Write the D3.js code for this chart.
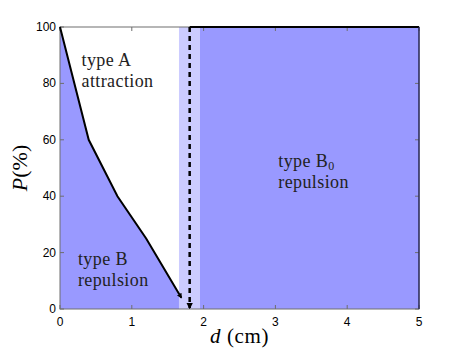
<!DOCTYPE html>
<html><head><meta charset="utf-8">
<script src="https://cdn.jsdelivr.net/npm/d3@7"></script>
<style>body{margin:0;background:#fff}</style>
</head><body>
<svg id="c" width="463" height="349"></svg>
<script>
const xTicks = [0,1,2,3,4,5];
const yTicks = [0,20,40,60,80,100];
const curveD = [0, 0.4, 0.8, 1.2, 1.69];
const curveP = [100, 60, 40, 25, 4];
const bandStart = 1.657, bandEnd = 1.95;
const dashD = 1.806;
const labels = [
  {lines:["type A","attraction"], d:0.3, p:86.2},
  {lines:["type B","repulsion"], d:0.25, p:15.5},
  {lines:["type B","repulsion"], sub:"0", d:3.04, p:50.5}
];

const svg = d3.select("#c");
const m = {l:60, r:44, t:27, b:40};
const W = 463, H = 349;
const x = d3.scaleLinear().domain([0,5]).range([m.l, W-m.r]);
const y = d3.scaleLinear().domain([0,100]).range([H-m.b, m.t]);
const dark = "#9999ff", light = "#ccccff";
const serif = "'Liberation Serif', 'Times New Roman', serif";

// fills
const fillPts = curveD.map((d,i)=>[d,curveP[i]]).filter(p=>p[0]<=bandStart);
fillPts.push([bandStart, 5]);
fillPts.push([bandStart,0]); fillPts.push([0,0]);
svg.append("path").attr("d", d3.line().x(p=>x(p[0])).y(p=>y(p[1]))(fillPts)+"Z").attr("fill",dark);
svg.append("rect").attr("x",x(bandStart)).attr("y",y(100)).attr("width",x(bandEnd)-x(bandStart)).attr("height",y(0)-y(100)).attr("fill",light);
svg.append("rect").attr("x",x(bandEnd)).attr("y",y(100)).attr("width",x(5)-x(bandEnd)).attr("height",y(0)-y(100)).attr("fill",dark);

// axes box
const ax = "#6e6e6e";
svg.append("rect").attr("x",x(0)).attr("y",y(100)).attr("width",x(5)-x(0)).attr("height",y(0)-y(100)).attr("fill","none").attr("stroke",ax).attr("stroke-width",1);
const g = svg.append("g");
xTicks.forEach(t=>{
  g.append("line").attr("x1",x(t)).attr("x2",x(t)).attr("y1",y(0)).attr("y2",y(0)-4).attr("stroke",ax);
  g.append("line").attr("x1",x(t)).attr("x2",x(t)).attr("y1",y(100)).attr("y2",y(100)+4).attr("stroke",ax);
  g.append("text").attr("x",x(t)).attr("y",y(0)+17).attr("text-anchor","middle").style("font-family","'Liberation Sans', Arial, sans-serif").attr("font-size",12).text(t);
});
yTicks.forEach(t=>{
  g.append("line").attr("x1",x(0)).attr("x2",x(0)+4).attr("y1",y(t)).attr("y2",y(t)).attr("stroke",ax);
  g.append("line").attr("x1",x(5)).attr("x2",x(5)-4).attr("y1",y(t)).attr("y2",y(t)).attr("stroke",ax);
  g.append("text").attr("x",x(0)-4).attr("y",y(t)+4).attr("text-anchor","end").style("font-family","'Liberation Sans', Arial, sans-serif").attr("font-size",12).text(t);
});

// markers
const defs = svg.append("defs");
defs.append("marker").attr("id","ah").attr("viewBox","0 0 10 10").attr("refX",8).attr("refY",5)
  .attr("markerWidth",2.6).attr("markerHeight",2.6).attr("orient","auto").attr("markerUnits","strokeWidth")
  .append("path").attr("d","M0,0L10,5L0,10Z").attr("fill","#000");

// solid curve
svg.append("path").attr("d", d3.line().x((d,i)=>x(d)).y((d,i)=>y(curveP[i]))(curveD))
  .attr("fill","none").attr("stroke","#000").attr("stroke-width",2).attr("marker-end","url(#ah)");
// top thick line
svg.append("line").attr("x1",x(dashD)).attr("x2",x(5)).attr("y1",y(100)).attr("y2",y(100)).attr("stroke","#000").attr("stroke-width",2);
svg.append("line").attr("x1",x(5)).attr("x2",x(5)).attr("y1",y(100)).attr("y2",y(0)).attr("stroke","#1a1a55").attr("stroke-width",1.2);
// dashed
svg.append("line").attr("x1",x(dashD)).attr("x2",x(dashD)).attr("y1",y(100)).attr("y2",y(0)-1)
  .attr("stroke","#000").attr("stroke-width",2.5).attr("stroke-dasharray","5,4").attr("marker-end","url(#ah)");

// labels
labels.forEach(L=>{
  const t = svg.append("text").style("font-family",serif).attr("font-size",18).attr("letter-spacing",0.4).attr("fill","#222");
  L.lines.forEach((s,i)=>{
    t.append("tspan").attr("x",x(L.d)).attr("y",y(L.p)+i*21).text(s);
    if(i===0 && L.sub){ t.append("tspan").attr("font-size",12).attr("dy",3).text(L.sub); }
  });
});

// axis titles
svg.append("text").attr("transform",`translate(27,${(y(0)+y(100))/2}) rotate(-90)`).attr("text-anchor","middle")
  .style("font-family",serif).attr("font-size",22)
  .html('<tspan font-style="italic">P</tspan>(%)');
svg.append("text").attr("x",(x(0)+x(5))/2).attr("y",343).attr("text-anchor","middle")
  .style("font-family",serif).attr("font-size",21).attr("letter-spacing",0.6)
  .html('<tspan font-style="italic">d</tspan> (cm)');
</script>
</body></html>
